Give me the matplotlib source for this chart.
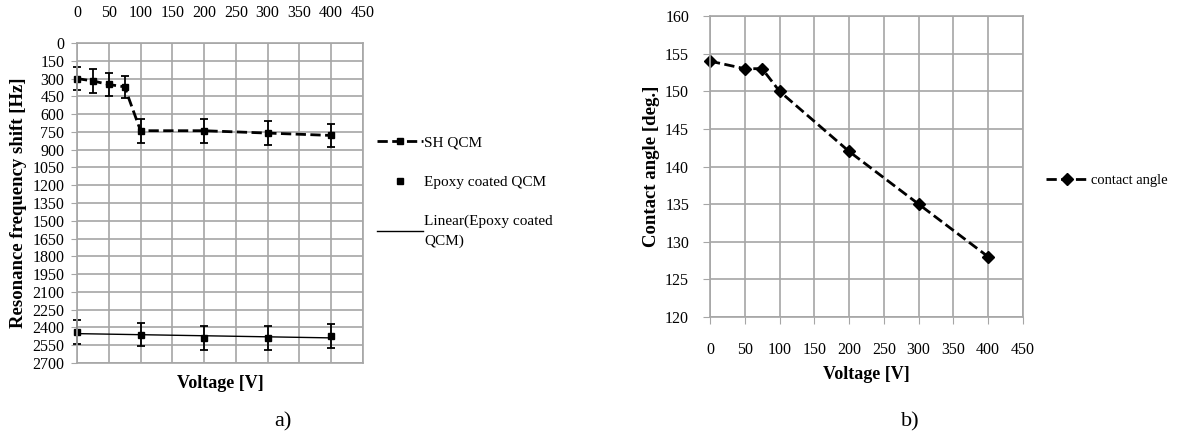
import matplotlib.pyplot as plt
from matplotlib.lines import Line2D
import numpy as np

plt.rcParams['font.family'] = ['Liberation Serif', 'DejaVu Serif']

# a) resonance frequency shift
volt_sh = [0, 25, 50, 75, 100, 200, 300, 400]
shift_sh = [300, 320, 350, 370, 740, 740, 760, 780]
err_sh = [100, 100, 100, 95, 100, 100, 100, 100]

volt_ep = [0, 100, 200, 300, 400]
shift_ep = [2440, 2460, 2490, 2490, 2470]
err_ep = [100, 100, 100, 100, 100]

# b) contact angle
volt_ca = [0, 50, 75, 100, 200, 300, 400]
angle_ca = [154, 153, 153, 150, 142, 135, 128]

gridc = '#a6a6a6'

fig = plt.figure(figsize=(11.93, 4.42), dpi=100)

# ---- left panel
ax1 = fig.add_axes([0.0645, 0.1787, 0.2398, 0.724])
c1 = ax1.errorbar(volt_sh, shift_sh, yerr=err_sh, fmt='s--', color='black', lw=2,
                  ms=5, capsize=3, elinewidth=1.3, capthick=1.3)
c2 = ax1.errorbar(volt_ep, shift_ep, yerr=err_ep, fmt='s', color='black',
                  ms=5, capsize=3, elinewidth=1.3, capthick=1.3)
for c in (c1, c2):
    for art in c.get_children():
        art.set_clip_on(False)
k, b = np.polyfit(volt_ep, shift_ep, 1)
xl = np.array([volt_ep[0], volt_ep[-1]])
ax1.plot(xl, k * xl + b, color='black', lw=1)
ax1.set_xlim(0, 450)
ax1.set_ylim(2700, 0)
ax1.set_xticks(np.arange(0, 451, 50))
ax1.set_yticks(np.arange(0, 2701, 150))
ax1.xaxis.tick_top()
ax1.tick_params(axis='x', length=0, pad=16, labelsize=11.5)
ax1.tick_params(axis='y', length=4, pad=5, labelsize=11.5, color=gridc)
ax1.grid(True, color=gridc, lw=1.2)
for s in ax1.spines.values():
    s.set_color(gridc)
    s.set_linewidth(1.2)
ax1.set_ylabel('Resonance frequency shift [Hz]', fontsize=13.5, fontweight='bold', labelpad=4)
ax1.text(0.5, -0.065, 'Voltage [V]', transform=ax1.transAxes, ha='center', va='center',
         fontsize=13, fontweight='bold')
h1 = [Line2D([], [], color='black', ls='--', lw=2, marker='s', ms=4),
      Line2D([], [], color='black', ls='none', marker='s', ms=4),
      Line2D([], [], color='black', lw=1)]
leg = ax1.legend(h1, ['SH QCM', 'Epoxy coated QCM', 'Linear(Epoxy coated\nQCM)'],
                 loc='center left', bbox_to_anchor=(1.0, 0.535), frameon=False,
                 fontsize=11, labelspacing=1.7, handlelength=3, handletextpad=0.1)
for t in leg.get_texts():
    t.set_linespacing(1.6)
fig.text(0.237, 0.045, 'a)', ha='center', va='center', fontsize=16)

# ---- right panel
ax2 = fig.add_axes([0.5951, 0.2828, 0.2624, 0.681])
ax2.plot(volt_ca, angle_ca, 'D--', color='black', lw=2, ms=6, clip_on=False,
         label='contact angle')
ax2.set_xlim(0, 450)
ax2.set_ylim(120, 160)
ax2.set_xticks(np.arange(0, 451, 50))
ax2.set_yticks(np.arange(120, 161, 5))
ax2.tick_params(axis='x', length=5, pad=13, labelsize=11.5, color=gridc)
ax2.tick_params(axis='y', length=5, pad=10, labelsize=11.5, color=gridc)
ax2.grid(True, color=gridc, lw=1.2)
for s in ax2.spines.values():
    s.set_color(gridc)
    s.set_linewidth(1.2)
ax2.set_ylabel('Contact angle [deg.]', fontsize=13.5, fontweight='bold', labelpad=4)
ax2.set_xlabel('Voltage [V]', fontsize=13, fontweight='bold', labelpad=6)
ax2.legend(loc='center left', bbox_to_anchor=(1.03, 0.455), frameon=False,
           fontsize=10.5, handlelength=3, handletextpad=0.1)
fig.text(0.763, 0.045, 'b)', ha='center', va='center', fontsize=16)

fig.savefig('out.png', dpi=100)
